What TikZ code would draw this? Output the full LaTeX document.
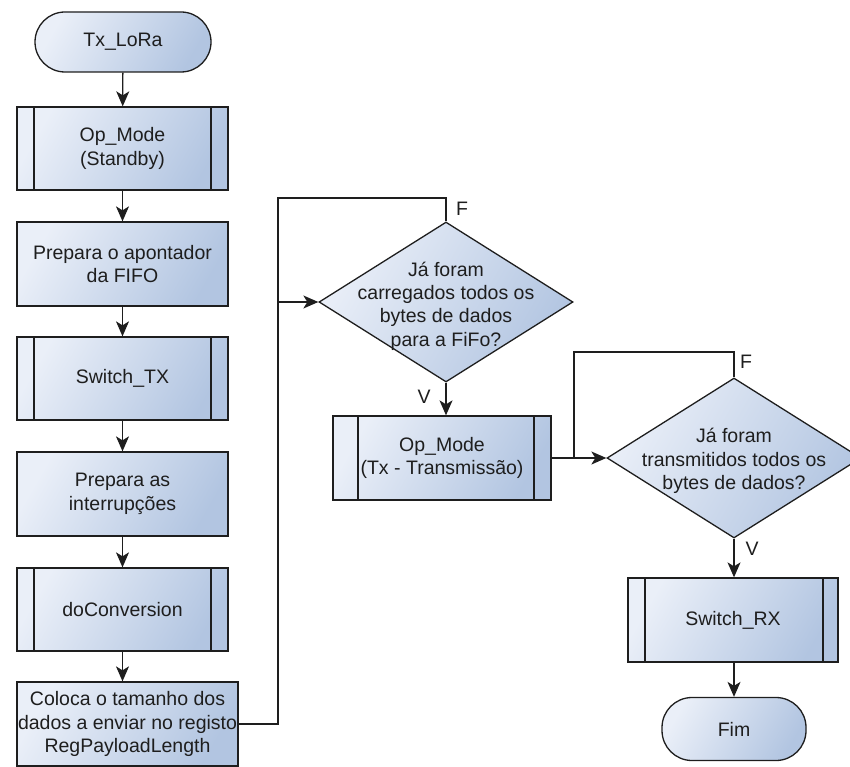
\documentclass[tikz,border=0pt]{standalone}
\usepackage{fontspec}
\setmainfont{Liberation Sans}
\usetikzlibrary{shapes.geometric,arrows.meta}

\definecolor{fillA}{HTML}{EAEFF8}
\definecolor{fillB}{HTML}{B2C5E1}
\definecolor{ink}{HTML}{1E1E1E}

\tikzset{
  stripl/.store in=\stripL, stripr/.store in=\stripR,
  stripl=17pt, stripr=17pt,
}

\begin{document}
\begin{tikzpicture}[x=1pt,y=-1pt,
  every node/.style={font=\fontsize{19.5}{23.3}\selectfont, text=ink},
  base/.style={draw=ink, line width=1.3pt, left color=fillA, right color=fillB,
               shading angle=60, align=center, inner sep=0pt},
  proc/.style={base, rectangle, minimum width=211pt, minimum height=84pt},
  term/.style={base, rectangle, rounded corners=30pt},
  sub/.style={proc, path picture={
      \draw[draw=ink, line width=1.3pt]
        ([xshift=\stripL]path picture bounding box.north west) --
        ([xshift=\stripL]path picture bounding box.south west)
        ([xshift=-\stripR]path picture bounding box.north east) --
        ([xshift=-\stripR]path picture bounding box.south east);}},
  decision/.style={base, diamond, aspect=1.6, minimum width=254pt, minimum height=160pt},
  txt/.style={align=center, inner sep=0pt},
  lbl/.style={inner sep=0pt},
  line/.style={draw=ink, line width=1.3pt},
  arrow/.style={line, -{Stealth[length=15pt,width=13pt,inset=4pt]}},
]
\useasboundingbox (0,0) rectangle (850,767);

% left column
\node[term, minimum width=176pt, minimum height=60pt] (start) at (123,42) {Tx\_LoRa};
\node[sub, minimum height=83pt] (s1) at (122.5,148.5) {Op\_Mode\\(Standby)};
\node[proc] (p1) at (122.5,264) {Prepara o apontador\\da FIFO};
\node[sub, minimum height=83pt] (s2) at (122.5,378.5) {Switch\_TX};
\node[proc] (p2) at (122.5,494) {Prepara as\\interrupções};
\node[sub, minimum height=83pt] (s3) at (122.5,609.5) {doConversion};
\node[proc, minimum width=221pt] (p3) at (127.5,724) {};
\node[txt] (p3t) at (p3) {Coloca o tamanho dos\\dados a enviar no registo\\RegPayloadLength};

% first decision
\node[decision] (d1) at (446,302) {};
\node[txt] (d1t) at (446,306) {Já foram\\carregados todos os\\bytes de dados\\para a FiFo?};
\node[lbl] (d1f) at (462,209) {F};
\node[lbl] (d1v) at (424,397) {V};
\node[sub, minimum width=218pt, stripl=25pt] (s4) at (442,458) {Op\_Mode\\(Tx - Transmissão)};

% second decision
\node[decision] (d2) at (734,458) {};
\node[txt] (d2t) at (734,461) {Já foram\\transmitidos todos os\\bytes de dados?};
\node[lbl] (d2f) at (746,362) {F};
\node[lbl] (d2v) at (752,549) {V};
\node[sub, minimum width=210pt, stripr=15pt] (s5) at (733,620) {Switch\_RX};
\node[term, minimum width=144pt, minimum height=63pt] (fim) at (734,729) {Fim};

% junctions and loop corners
\coordinate (j1) at (278,302);
\coordinate (c1) at (278,198);
\coordinate (j2) at (574,458);
\coordinate (c2) at (574,352);

% main flow
\draw[arrow] (start) -- (s1);
\draw[arrow] (s1) -- (p1);
\draw[arrow] (p1) -- (s2);
\draw[arrow] (s2) -- (p2);
\draw[arrow] (p2) -- (s3);
\draw[arrow] (s3.south) -- (s3.south |- p3.north);
\draw[line] (p3.east) -| (j1);
\draw[line] (d1.north) |- (c1) -- (j1);
\draw[arrow] (j1) -- (d1.west);
\draw[arrow] (d1.south) -- (d1.south |- s4.north);
\draw[line] (s4.east) -- (j2);
\draw[line] (d2.north) |- (c2) -- (j2);
\draw[arrow] (j2) -- (d2.west);
\draw[arrow] (d2.south) -- (d2.south |- s5.north);
\draw[arrow] (s5.south -| fim.north) -- (fim.north);
\end{tikzpicture}
\end{document}
